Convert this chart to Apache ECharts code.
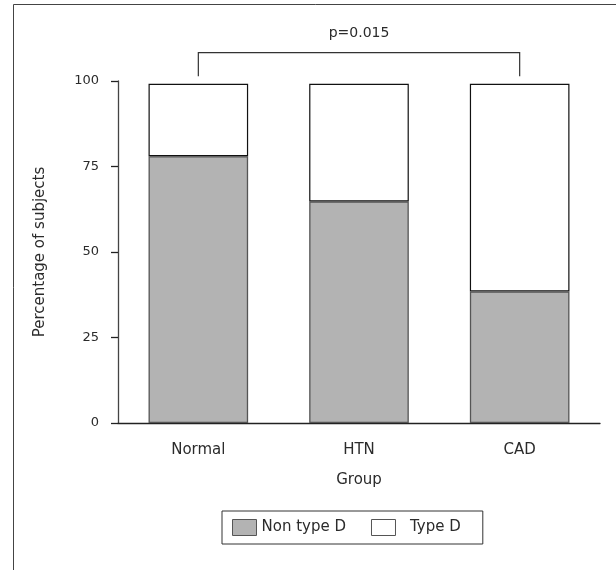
<!DOCTYPE html>
<html>
<head>
<meta charset="utf-8">
<script src="https://cdn.jsdelivr.net/npm/echarts@6/dist/echarts.min.js"></script>
<style>
  html, body { margin: 0; padding: 0; background: #fff; }
  #chart { width: 616px; height: 570px; }
</style>
</head>
<body>
<div id="chart"></div>
<script>
// data
var groups = ['Normal', 'HTN', 'CAD'];
var nonTypeD = [78.0, 64.8, 38.5];
var typeD = [21.2, 34.4, 60.7];
var yTicks = [0, 25, 50, 75, 100];
// significance bracket between Normal and CAD
var bracketFrom = 'Normal';
var bracketTo = 'CAD';
var bracketLow = 101.4;
var bracketHigh = 108.3;
var pLabel = 'p=0.015';

var FONT = 'DejaVu Sans';
var TXT = '#2b2b2b';

var myChart = echarts.init(document.getElementById('chart'));

var option = {
    backgroundColor: '#fff',
    animation: false,
    textStyle: { fontFamily: FONT, color: TXT },
    // outer frame (only top and left edges show in the picture)
    graphic: [{
        type: 'rect',
        shape: { x: 13.5, y: 4.5, width: 800, height: 800 },
        style: { fill: 'none', stroke: '#444', lineWidth: 1 },
        z: -1
    }],
    grid: { left: 118, right: 16, top: 81, bottom: 147 },
    legend: {
        data: ['Non type D', 'Type D'],
        left: 222,
        top: 511,
        orient: 'horizontal',
        icon: 'rect',
        itemWidth: 24,
        itemHeight: 16,
        itemGap: 25,
        padding: [8, 22, 8, 10],
        borderColor: '#333',
        borderWidth: 1,
        itemStyle: { borderWidth: 1, borderColor: '#555' },
        formatter: function (n) { return n === 'Type D' ? '  ' + n : n; },
        textStyle: { fontFamily: FONT, fontSize: 15, color: TXT }
    },
    xAxis: {
        type: 'category',
        data: groups,
        name: 'Group',
        nameLocation: 'middle',
        nameGap: 50,
        nameTextStyle: { fontFamily: FONT, fontSize: 15, color: TXT },
        axisLine: { lineStyle: { color: '#222', width: 1.3 } },
        axisTick: { alignWithLabel: true, length: 8, lineStyle: { color: '#222', width: 1.3 } },
        axisLabel: { margin: 20, fontFamily: FONT, fontSize: 15, color: TXT },
        splitLine: { show: false }
    },
    yAxis: {
        type: 'value',
        min: yTicks[0],
        max: yTicks[yTicks.length - 1],
        interval: yTicks[1] - yTicks[0],
        name: 'Percentage of subjects',
        nameLocation: 'middle',
        nameGap: 70,
        nameTextStyle: { fontFamily: FONT, fontSize: 15, color: TXT },
        axisLine: { show: true, lineStyle: { color: '#444', width: 1.3 } },
        axisTick: { show: true, length: 7, lineStyle: { color: '#222', width: 1.3 } },
        axisLabel: { margin: 19, fontFamily: FONT, fontSize: 13, color: TXT },
        splitLine: { show: false }
    },
    series: [
        {
            name: 'Non type D',
            type: 'bar',
            stack: 'total',
            barWidth: '62%',
            data: nonTypeD,
            itemStyle: { color: '#b3b3b3', borderColor: '#555', borderWidth: 1.3 }
        },
        {
            name: 'Type D',
            type: 'bar',
            stack: 'total',
            barWidth: '62%',
            data: typeD,
            itemStyle: { color: '#fff', borderColor: '#111', borderWidth: 1.2 }
        },
        {
            type: 'custom',
            clip: false,
            silent: true,
            encode: { x: [0, 2], y: [1, 3] },
            data: [[groups.indexOf(bracketFrom), bracketLow, groups.indexOf(bracketTo), bracketHigh]],
            renderItem: function (params, api) {
                var a = api.coord([api.value(0), api.value(1)]);
                var b = api.coord([api.value(0), api.value(3)]);
                var c = api.coord([api.value(2), api.value(3)]);
                var d = api.coord([api.value(2), api.value(1)]);
                return {
                    type: 'group',
                    children: [
                        {
                            type: 'polyline',
                            shape: { points: [a, b, c, d] },
                            style: { stroke: '#333', fill: null, lineWidth: 1.2 }
                        },
                        {
                            type: 'text',
                            x: (b[0] + c[0]) / 2,
                            y: b[1] - 19,
                            style: {
                                text: pLabel,
                                align: 'center',
                                verticalAlign: 'middle',
                                font: '14px "DejaVu Sans"',
                                fill: TXT
                            }
                        }
                    ]
                };
            }
        }
    ]
};

myChart.setOption(option);
</script>
</body>
</html>
